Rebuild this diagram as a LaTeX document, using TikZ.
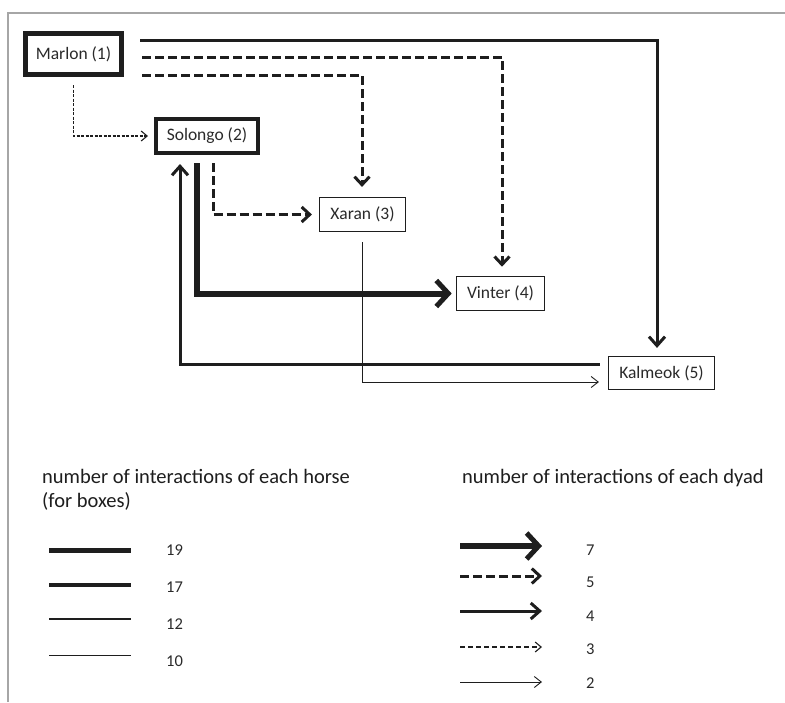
\documentclass[tikz,border=0pt]{standalone}
\usepackage{fontspec}
\setmainfont{Carlito}
\usetikzlibrary{arrows.meta}
\definecolor{ink}{HTML}{1E1E1E}
\definecolor{txt}{HTML}{2A2A2A}
\tikzset{
  horse/.style={draw=ink, inner sep=0pt, text=txt, font=\fontsize{17.5}{17.5}\selectfont},
  w19/.style={line width=5pt},
  w17/.style={line width=4pt},
  w12/.style={line width=1.6pt},
  w10/.style={line width=1.2pt},
  d7/.style={draw=ink, line width=6pt, -{Straight Barb[length=12pt,width=26pt,line width=5pt]}},
  d5/.style={draw=ink, line width=3pt, dash pattern=on 9pt off 4pt, -{Straight Barb[length=8pt,width=15pt,line width=3pt]}},
  d4/.style={draw=ink, line width=3pt, -{Straight Barb[length=9pt,width=16pt,line width=3pt]}},
  d3/.style={draw=ink, line width=1.1pt, dash pattern=on 3pt off 1.5pt, -{Straight Barb[length=6pt,width=10pt,line width=1.1pt]}},
  d2/.style={draw=ink, line width=0.9pt, -{Straight Barb[length=7pt,width=11pt,line width=0.9pt]}},
  lgtitle/.style={anchor=base west, inner sep=0pt, text=ink, font=\fontsize{20.5}{20.5}\selectfont},
  lgnum/.style={anchor=base west, inner sep=0pt, text=txt, font=\fontsize{16.5}{16.5}\selectfont},
}
\begin{document}
\begin{tikzpicture}[x=1pt,y=-1pt]
\useasboundingbox (0,0) rectangle (785,702);
\fill[white] (0,0) rectangle (785,702);
\draw[gray!70, line width=1.2pt] (8,702) -- (8,13) -- (785,13);

% horses
\node[horse,w19,minimum width=96pt,minimum height=41pt] (marlon) at (73.5,54) {Marlon (1)};
\node[horse,w17,minimum width=102pt,minimum height=34pt] (solongo) at (207,136) {Solongo (2)};
\node[horse,w10,minimum width=86pt,minimum height=34pt] (xaran) at (362.5,214.5) {Xaran (3)};
\node[horse,w12,minimum width=88pt,minimum height=34pt] (vinter) at (500.5,293.5) {Vinter (4)};
\node[horse,w10,minimum width=106pt,minimum height=33pt] (kalmeok) at (661.5,373) {Kalmeok (5)};

% dyads
\draw[d4] ([xshift=16pt,yshift=-9pt]marlon.north east) -| ([xshift=-4.5pt,yshift=8pt]kalmeok.north);
\draw[d5] ([xshift=18pt,yshift=-3pt]marlon.east) -| ([xshift=1.5pt,yshift=9pt]vinter.north);
\draw[d5] ([xshift=18pt,yshift=-21pt]marlon.east) -| ([xshift=-0.5pt,yshift=10pt]xaran.north);
\draw[d3] ([yshift=-8pt]marlon.south) |- ([xshift=-6pt]solongo.west);
\draw[d5] ([xshift=6pt,yshift=-8pt]solongo.south) |- ([xshift=-7pt]xaran.west);
\draw[d7] ([xshift=-10pt,yshift=-8pt]solongo.south) |- ([xshift=-4pt]vinter.west);
\draw[d4] ([xshift=-8pt,yshift=9pt]kalmeok.west) -| ([xshift=-27pt,yshift=-9pt]solongo.south);
\draw[d2] ([yshift=-10pt]xaran.south) |- ([xshift=-9pt,yshift=-9pt]kalmeok.west);

% legend: horses
\node[lgtitle] (lth) at (42,483) {number of interactions of each horse};
\node[lgtitle] (lth2) at (42,507) {(for boxes)};
\draw[ink,w19] (49,550) -- (131,550);
\draw[ink,w17] (49,585) -- (131,585);
\draw[ink,w12] (49,619) -- (131,619);
\draw[ink,line width=0.8pt] (49,655) -- (131,655);
\node[lgnum] (n19) at (166,555) {19};
\node[lgnum] (n17) at (166,592) {17};
\node[lgnum] (n12) at (166,629) {12};
\node[lgnum] (n10) at (166,666) {10};

% legend: dyads
\node[lgtitle] (ltd) at (462,483) {number of interactions of each dyad};
\draw[d7] (460,546) -- (542,546);
\draw[d5] (460,576) -- (542,576);
\draw[d4] (460,611) -- (542,611);
\draw[d3,line width=1.6pt,dash pattern=on 5pt off 3pt] (460,647) -- (542,647);
\draw[d2] (460,682) -- (542,682);
\node[lgnum] (n7) at (586,555) {7};
\node[lgnum] (n5) at (586,587) {5};
\node[lgnum] (n4) at (586,621) {4};
\node[lgnum] (n3) at (586,654) {3};
\node[lgnum] (n2) at (586,688) {2};
\end{tikzpicture}
\end{document}
